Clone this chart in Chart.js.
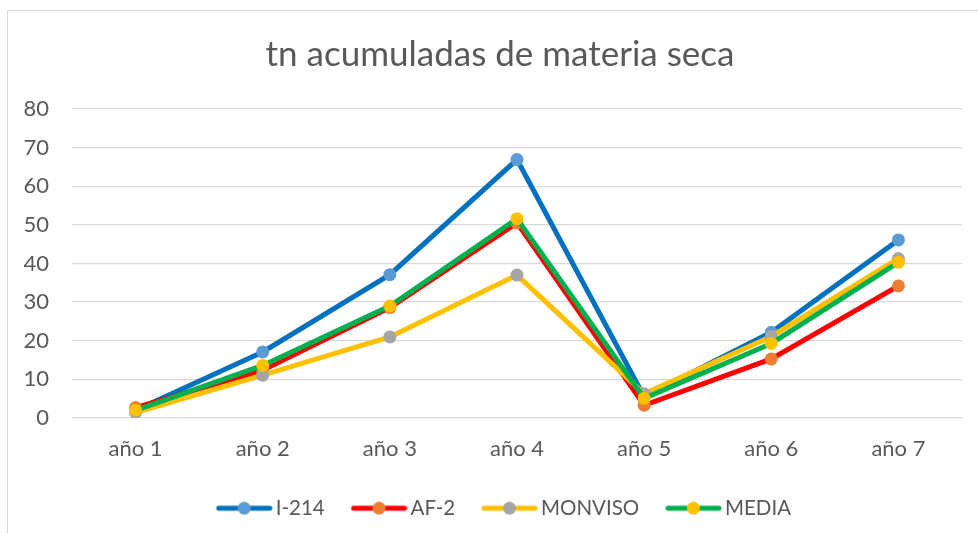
<!DOCTYPE html>
<html>
<head>
<meta charset="utf-8">
<script src="https://cdn.jsdelivr.net/npm/chart.js@4/dist/chart.umd.min.js"></script>
<style>
    html, body { margin: 0; padding: 0; background: #fff; }
    #wrap { position: relative; width: 978px; height: 533px; }
    #frame {
        position: absolute; left: 7px; top: 10px; width: 990px; height: 540px;
        border-left: 1px solid #d9d9d9; border-top: 1px solid #d9d9d9;
    }
    canvas { position: absolute; left: 0; top: 0; }
</style>
</head>
<body>
<div id="wrap">
    <div id="frame"></div>
    <canvas id="chart" width="978" height="533"></canvas>
</div>
<script>
const years = ["año 1", "año 2", "año 3", "año 4", "año 5", "año 6", "año 7"];
const i214 = [2, 17.1, 37.1, 66.9, 5.5, 22.2, 46.1];
const af2 = [2.7, 12.4, 28.6, 50.5, 3.3, 15.3, 34.2];
const monviso = [1.4, 11.1, 21, 37, 6.3, 21.1, 41.3];
const media = [2, 13.6, 29, 51.6, 5.1, 19.3, 40.3];
const yTicks = [0, 10, 20, 30, 40, 50, 60, 70, 80];

const textColor = "#595959";
const font = "Lato, 'Liberation Sans', sans-serif";

// legend sample: line with the marker in the middle
const sample = (line, marker) => {
    const c = document.createElement("canvas");
    c.width = 57;
    c.height = 14;
    const g = c.getContext("2d");
    g.strokeStyle = line;
    g.lineWidth = 5;
    g.lineCap = "round";
    g.beginPath();
    g.moveTo(3, 7);
    g.lineTo(54, 7);
    g.stroke();
    g.fillStyle = marker;
    g.beginPath();
    g.arc(28.5, 7, 6.5, 0, Math.PI * 2);
    g.fill();
    return c;
};

const series = [
    { label: "I-214", data: i214, line: "#0070C0", marker: "#5B9BD5" },
    { label: "AF-2", data: af2, line: "#FF0000", marker: "#ED7D31" },
    { label: "MONVISO", data: monviso, line: "#FFC000", marker: "#A5A5A5" },
    { label: "MEDIA", data: media, line: "#00B050", marker: "#FFC000" },
];

// title and legend sit a bit right of the canvas centre, like the Excel chart
const nudge = {
    id: "nudge",
    afterLayout(chart) {
        chart.titleBlock.left += 19;
        chart.titleBlock.right += 19;
        chart.legend.left += 26;
        chart.legend.right += 26;
    },
};

var ctx = document.getElementById("chart").getContext("2d");
var chart = new Chart(ctx, {
    type: "line",
    plugins: [nudge],
    data: {
        labels: years,
        datasets: series.map((s, i) => ({
            label: s.label,
            data: s.data,
            borderColor: s.line,
            backgroundColor: s.marker,
            pointBackgroundColor: s.marker,
            pointBorderWidth: 0,
            pointRadius: 6.5,
            borderWidth: 5,
            tension: 0,
            order: series.length - i,
            legendSample: sample(s.line, s.marker),
        })),
    },
    options: {
        responsive: false,
        animation: false,
        layout: { padding: { left: 0, right: 16, top: 0, bottom: 4.5 } },
        plugins: {
            title: {
                display: true,
                text: "tn acumuladas de materia seca",
                color: textColor,
                font: { family: font, size: 35, weight: "normal" },
                padding: { top: 34, bottom: 33 },
            },
            legend: {
                position: "bottom",
                labels: {
                    usePointStyle: true,
                    pointStyleWidth: 42.5,
                    padding: 33,
                    color: textColor,
                    font: { family: font, size: 20.5 },
                    generateLabels: (chart) =>
                        chart.data.datasets.map((d, i) => ({
                            text: d.label,
                            datasetIndex: i,
                            pointStyle: d.legendSample,
                            fontColor: textColor,
                            lineWidth: 0,
                            hidden: false,
                        })),
                },
            },
            tooltip: { enabled: false },
        },
        scales: {
            x: {
                offset: true,
                grid: { display: false, drawTicks: false },
                border: { display: false },
                ticks: { color: textColor, font: { family: font, size: 22 }, padding: 18 },
                afterFit: (s) => { s.height = 47; },
            },
            y: {
                min: 0,
                max: 80,
                afterBuildTicks: (s) => { s.ticks = yTicks.map((v) => ({ value: v })); },
                grid: { color: "#d9d9d9", lineWidth: 1.3, drawTicks: false },
                border: { display: false },
                ticks: { color: textColor, font: { family: font, size: 22 }, padding: 23 },
                afterFit: (s) => { s.width = 72; },
            },
        },
    },
});
</script>
</body>
</html>
